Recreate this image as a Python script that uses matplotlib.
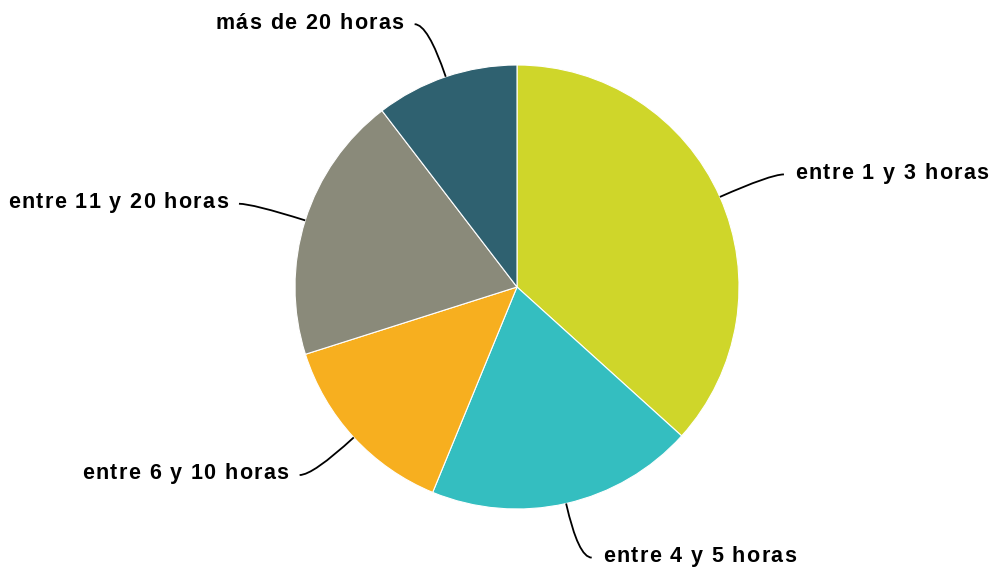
import numpy as np
import matplotlib
matplotlib.use("Agg")
import matplotlib.pyplot as plt
from matplotlib.path import Path
from matplotlib.patches import PathPatch
from matplotlib.font_manager import FontProperties, findfont
from matplotlib.ft2font import FT2Font
from matplotlib.transforms import ScaledTranslation

categories = ["entre 1 y 3 horas", "entre 4 y 5 horas", "entre 6 y 10 horas",
              "entre 11 y 20 horas", "más de 20 horas"]
values = [36.7, 19.5, 13.9, 19.5, 10.4]
colors = ["#CFD62A", "#34BEC0", "#F7AF1F", "#8A8A7A", "#2F6170"]

W, H = 995, 571
cx, cy, R = 517, 287, 222  # pixel layout of the pie
fig = plt.figure(figsize=(W / 100, H / 100), dpi=100)
ax = fig.add_axes([0, 0, 1, 1])
ax.axis("off")

wedges, _ = ax.pie(values, colors=colors, startangle=90, counterclock=False,
                   radius=1, center=(0, 0),
                   wedgeprops=dict(edgecolor="white", linewidth=0.8))
ax.set_xlim(-cx / R, (W - cx) / R)
ax.set_ylim(-(H - cy) / R, cy / R)
ax.set_aspect("auto")

FS = 15.5
TRACK = 1.0  # extra letter spacing in points
prop = FontProperties(family="Liberation Sans", weight="bold", size=FS)
font = FT2Font(findfont(prop))
font.set_size(FS, 72)


def advance(ch):
    g = font.load_char(ord(ch))
    return g.linearHoriAdvance / 65536.0


def spaced_text(x, y, s, align):
    advs = [advance(ch) for ch in s]
    total = sum(advs) + TRACK * (len(s) - 1)
    off = 0.0 if align == "left" else -total
    for ch, a in zip(s, advs):
        if ch != " ":
            tr = ax.transData + ScaledTranslation(off / 72.0, 0, fig.dpi_scale_trans)
            ax.text(x, y, ch, transform=tr, ha="left", va="center",
                    fontproperties=prop, color="black")
        off += a + TRACK


r_label = 1.25
for w, lab in zip(wedges, categories):
    mid = np.deg2rad((w.theta1 + w.theta2) / 2)
    c, s = np.cos(mid), np.sin(mid)
    sign = 1 if c >= 0 else -1
    p0 = (c, s)
    p1 = (r_label * c, r_label * s)
    p2 = (p1[0] + sign * 0.06, p1[1])
    path = Path([p0, p1, p2], [Path.MOVETO, Path.CURVE3, Path.CURVE3])
    ax.add_patch(PathPatch(path, fill=False, edgecolor="black", lw=1.3))
    spaced_text(p2[0] + sign * 0.05, p2[1] + 0.005, lab,
                "left" if sign > 0 else "right")

fig.savefig("out.png", dpi=100, facecolor="white")
